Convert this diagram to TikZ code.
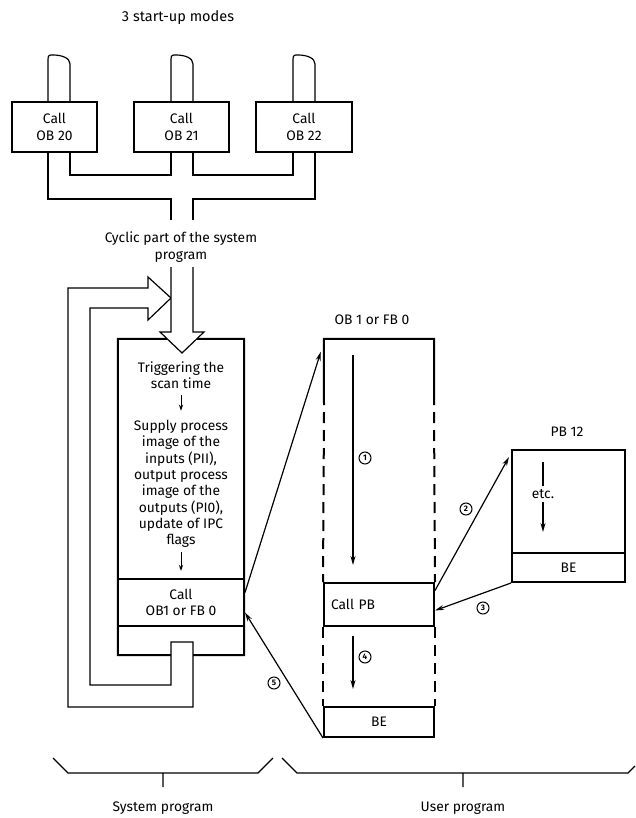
\documentclass[tikz,border=0pt]{standalone}
\usepackage{fontspec}
\setmainfont{Fira Sans}
\usetikzlibrary{arrows.meta}
\begin{document}
\begin{tikzpicture}[
        x=1pt, y=-1pt,
        every node/.style={font=\fontsize{13.8}{16.3}\selectfont, align=center},
        block/.style={draw, line width=2pt, inner sep=0pt},
        pipe/.style={line width=1.2pt},
        solidside/.style={line width=2pt},
        dashside/.style={line width=2pt, dash pattern=on 11pt off 7pt},
        arrow/.style={-{Stealth[length=9pt, width=5pt]}, line width=1.2pt},
        steparrow/.style={-{Stealth[length=6pt, width=4pt]}, line width=1pt},
        marker/.style={circle, draw, line width=1pt, inner sep=0pt, minimum size=12pt, font=\fontsize{8}{8}\selectfont\bfseries}
        ]
        \useasboundingbox (0,0) rectangle (635,818);

        \node[font=\fontsize{14.5}{16.3}\selectfont] (modes) at (178,18) {3 start-up modes};
        \node[block, minimum width=85pt, minimum height=50pt] (ob20) at (54.5,127) {Call\\OB 20};
        \node[block, minimum width=95pt, minimum height=50pt] (ob21) at (181.5,127) {Call\\OB 21};
        \node[block, minimum width=96pt, minimum height=50pt] (ob22) at (304,127) {Call\\OB 22};

        \draw[pipe] (48,102) -- (48,60) .. controls (48,55) and (49,55) .. (53,55) .. controls (62,55) and (70,58) .. (70,64) -- (70,102);
        \draw[pipe] (171,102) -- (171,60) .. controls (171,55) and (172,55) .. (176,55) .. controls (185,55) and (193,58) .. (193,64) -- (193,102);
        \draw[pipe] (293,102) -- (293,60) .. controls (293,55) and (294,55) .. (298,55) .. controls (307,55) and (315,58) .. (315,64) -- (315,102);

        \draw[pipe] (48,152) -- (48,199) -- (171,199) -- (171,220);
        \draw[pipe] (193,220) -- (193,199) -- (315,199) -- (315,152);
        \draw[pipe] (70,152) -- (70,175) -- (171,175) -- (171,152);
        \draw[pipe] (193,152) -- (193,175) -- (293,175) -- (293,152);

        \node (cyclic) at (181,247) {Cyclic part of the system\\program};

        \node[minimum width=126pt, minimum height=316pt, inner sep=0pt] (sysbox) at (181,497) {};
        \draw[solidside] (171,655) -- (sysbox.south west) -- (sysbox.north west) -- (sysbox.north east) -- (sysbox.south east) -- (193,655);
        \node (trigger) at (181,375) {Triggering the\\scan time};
        \node (supply) at (181,484) {Supply process\\image of the\\inputs (PII),\\output process\\image of the\\outputs (PI0),\\update of IPC\\flags};
        \node[block, minimum width=126pt, minimum height=47pt] (callob) at (181,602.5) {Call\\OB1 or FB 0};
        \draw[steparrow, shorten <=3pt, shorten >=6pt] (trigger.south) -- (supply.north);
        \draw[steparrow, shorten <=1pt, shorten >=7pt] (supply.south) -- (callob.north);

        \draw[pipe] (148,277) -- (171,298) -- (148,320) -- (148,308) -- (90,308) -- (90,685) -- (171,685) -- (171,642) -- (193,642) -- (193,707) -- (68,707) -- (68,288) -- (148,288) -- cycle;
        \draw[pipe, fill=white] (171,267) -- (171,332) -- (160,332) -- (182,353) -- (204,332) -- (193,332) -- (193,267);

        \node (oblabel) at (372,320) {OB 1 or FB 0};
        \node[minimum width=110pt, minimum height=398pt, inner sep=0pt] (obone) at (379,538) {};
        \node[block, minimum width=110pt, minimum height=43pt, text width=96pt, align=left] (callpb) at (379,604.5) {Call PB};
        \node[block, minimum width=110pt, minimum height=30pt] (obend) at (379,722) {BE};
        \draw[solidside] (324,405) -- (obone.north west) -- (obone.north east) -- (434,405);
        \draw[dashside] (324,412) -- (callpb.north west);
        \draw[dashside] (434,412) -- (callpb.north east);
        \draw[dashside] (callpb.south west) -- (obend.north west);
        \draw[dashside] (callpb.south east) -- (obend.north east);

        \coordinate (run1) at (353,355);
        \draw[arrow, shorten >=17pt] (run1) -- (run1 |- callpb.north);
        \draw[arrow, shorten <=9pt, shorten >=17pt] (callpb.south -| run1) -- (obend.north -| run1);
        \node[marker] (n1) at (365,458) {1};
        \node[marker] (n4) at (365,657) {4};

        \node (pblabel) at (567,432) {PB 12};
        \node[block, minimum width=113pt, minimum height=132pt] (pbtwelve) at (568.5,516) {};
        \node[block, minimum width=113pt, minimum height=29pt] (pbend) at (568.5,567.5) {BE};
        \node (etc) at (543,494) {etc.};
        \draw[pipe, shorten <=13pt] (pbtwelve.north -| etc) -- (etc.north);
        \draw[arrow, shorten >=20pt] (etc.south) -- (etc.south |- pbend.north);

        \draw[arrow] ([yshift=10pt]callob.east) -- ([xshift=-3pt, yshift=-13pt]obone.north west);
        \draw[arrow] ([yshift=14pt]callpb.east) -- ([xshift=-2pt, yshift=-8pt]pbtwelve.north west);
        \draw[arrow] (pbend.south west) -- ([yshift=-6pt]callpb.east);
        \draw[arrow] (obend.south west) -- ([yshift=-10pt]callob.east);
        \node[marker] (n2) at (466,509) {2};
        \node[marker] (n3) at (483,608) {3};
        \node[marker] (n5) at (274,683) {5};

        \draw[pipe] (53,758) -- (68,773) -- (258,773) -- (273,758) (163,773) -- (163,787);
        \node (syslabel) at (163,808) {System program};
        \draw[pipe] (282,758) -- (297,773) -- (628,773) -- (635,766) (463,773) -- (463,787);
        \node (userlabel) at (463,808) {User program};
    \end{tikzpicture}
\end{document}
